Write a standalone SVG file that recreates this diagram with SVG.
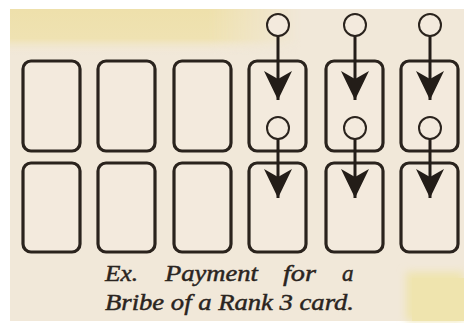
<svg xmlns="http://www.w3.org/2000/svg" width="464" height="323" viewBox="0 0 464 323">
<defs>
<linearGradient id="band" x1="0" y1="0" x2="0" y2="1">
<stop offset="0" stop-color="#eee0ab"/>
<stop offset="0.65" stop-color="#efe2b2"/>
<stop offset="1" stop-color="#f2e9da" stop-opacity="0"/>
</linearGradient>
<linearGradient id="bandx" x1="0" y1="0" x2="1" y2="0">
<stop offset="0" stop-color="#fff" stop-opacity="1"/>
<stop offset="0.45" stop-color="#fff" stop-opacity="1"/>
<stop offset="0.65" stop-color="#fff" stop-opacity="0"/>
</linearGradient>
<mask id="bm"><rect x="0" y="0" width="464" height="70" fill="url(#bandx)"/></mask>
<filter id="soft" x="-20%" y="-20%" width="140%" height="140%"><feGaussianBlur stdDeviation="4"/></filter>
<marker id="ah" markerUnits="userSpaceOnUse" viewBox="-30 -15 31 30" refX="0" refY="0" markerWidth="31" markerHeight="30" orient="auto">
<path d="M0,0 L-29,-14 L-21,0 L-29,14 Z" fill="#231d18"/>
</marker>
<style>
.card{fill:#f3eadd;stroke:#2a231d;stroke-width:3.2}
.tok{fill:#f3eadd;stroke:#2a231d;stroke-width:2}
.con{stroke:#231d18;stroke-width:3;fill:none;marker-end:url(#ah)}
.txt{font-family:"Liberation Serif","DejaVu Serif",serif;font-style:italic;font-size:23px;fill:#2a2420;stroke:#2a2420;stroke-width:0.45}
</style>
</defs>
<rect x="0" y="0" width="464" height="323" fill="#ffffff"/>
<rect x="10" y="9" width="454" height="312" fill="#f1e8d9"/>
<rect x="10" y="9" width="454" height="46" fill="url(#band)" mask="url(#bm)"/>
<rect x="406" y="272" width="58" height="49" fill="#efe4ae" filter="url(#soft)"/>
<rect x="412" y="278" width="52" height="43" fill="#efe4ae"/>
<g id="cards">
<g id="card-r1-1"><rect class="card" x="23" y="61" width="57" height="90" rx="8"/></g>
<g id="card-r1-2"><rect class="card" x="98" y="61" width="57" height="90" rx="8"/></g>
<g id="card-r1-3"><rect class="card" x="174" y="61" width="57" height="90" rx="8"/></g>
<g id="card-r1-4"><rect class="card" x="249" y="61" width="57" height="90" rx="8"/></g>
<g id="card-r1-5"><rect class="card" x="326" y="61" width="57" height="90" rx="8"/></g>
<g id="card-r1-6"><rect class="card" x="401" y="61" width="57" height="90" rx="8"/></g>
<g id="card-r2-1"><rect class="card" x="23" y="163" width="57" height="89" rx="8"/></g>
<g id="card-r2-2"><rect class="card" x="98" y="163" width="57" height="89" rx="8"/></g>
<g id="card-r2-3"><rect class="card" x="174" y="163" width="57" height="89" rx="8"/></g>
<g id="card-r2-4"><rect class="card" x="249" y="163" width="57" height="89" rx="8"/></g>
<g id="card-r2-5"><rect class="card" x="326" y="163" width="57" height="89" rx="8"/></g>
<g id="card-r2-6"><rect class="card" x="401" y="163" width="57" height="89" rx="8"/></g>
</g>
<g id="connectors">
<line class="con" x1="278" y1="36" x2="278" y2="100"/>
<line class="con" x1="355" y1="36" x2="355" y2="100"/>
<line class="con" x1="430" y1="36" x2="430" y2="100"/>
<line class="con" x1="278" y1="139" x2="278" y2="198"/>
<line class="con" x1="355" y1="139" x2="355" y2="198"/>
<line class="con" x1="430" y1="139" x2="430" y2="198"/>
</g>
<g id="tokens">
<g id="token-1a"><circle class="tok" cx="278" cy="25" r="11"/></g>
<g id="token-2a"><circle class="tok" cx="355" cy="25" r="11"/></g>
<g id="token-3a"><circle class="tok" cx="430" cy="25" r="11"/></g>
<g id="token-1b"><circle class="tok" cx="278" cy="128" r="11"/></g>
<g id="token-2b"><circle class="tok" cx="355" cy="128" r="11"/></g>
<g id="token-3b"><circle class="tok" cx="430" cy="128" r="11"/></g>
</g>
<g id="caption">
<text class="txt" x="105" y="281" textLength="33" lengthAdjust="spacingAndGlyphs">Ex.</text>
<text class="txt" x="165" y="281" textLength="93" lengthAdjust="spacingAndGlyphs">Payment</text>
<text class="txt" x="283" y="281" textLength="33" lengthAdjust="spacingAndGlyphs">for</text>
<text class="txt" x="342" y="281">a</text>
<text class="txt" x="105" y="310" textLength="249" lengthAdjust="spacingAndGlyphs">Bribe of a Rank 3 card.</text>
</g>
</svg>
